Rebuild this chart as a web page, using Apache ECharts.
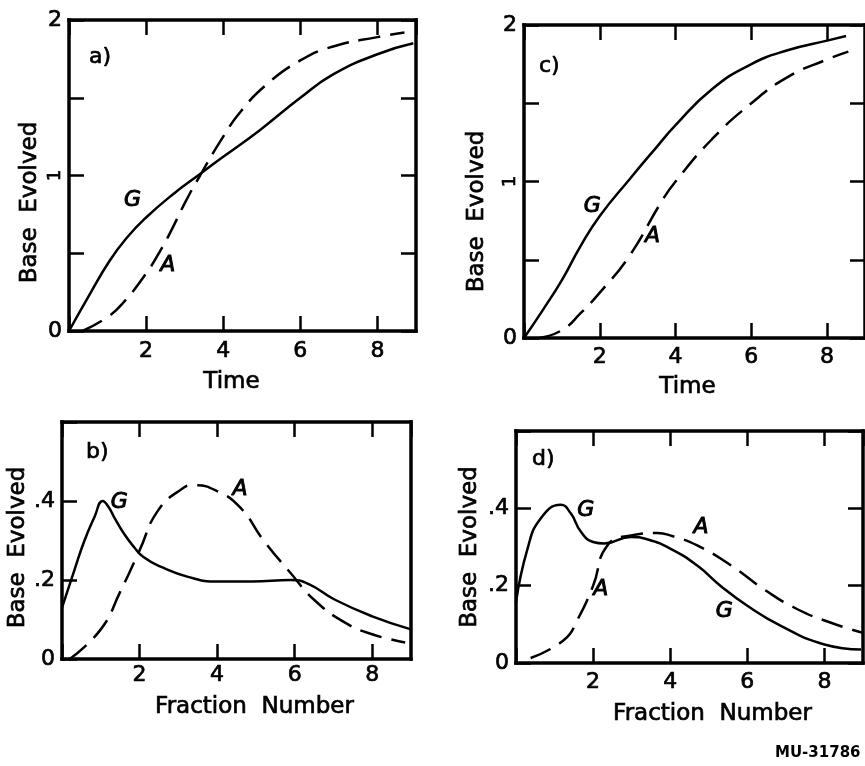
<!DOCTYPE html>
<html><head><meta charset="utf-8">
<script src="https://cdn.jsdelivr.net/npm/echarts@6/dist/echarts.min.js"></script>
<style>html,body{margin:0;padding:0;background:#fff}#c{width:865px;height:766px}</style>
</head><body><div id="c"></div>
<script>
// ---- Data ----
// Panel a) Base evolved vs time
const aGx = [0, 0.5, 1.05, 1.5, 2, 2.7, 3.4, 4, 4.94, 6, 6.85, 8, 8.93];
const aGy = [0, 0.22, 0.45, 0.6, 0.73, 0.88, 1.01, 1.12, 1.29, 1.5, 1.65, 1.78, 1.85];
const aAx = [0.35, 1.0, 1.4, 2, 2.4, 2.7, 3.04, 3.4, 4, 4.45, 5.1, 6, 6.85, 8, 8.7];
const aAy = [0, 0.09, 0.18, 0.37, 0.53, 0.67, 0.84, 1.0, 1.25, 1.41, 1.58, 1.74, 1.83, 1.89, 1.92];
// Panel c) Base evolved vs time
const cGx = [0, 0.5, 1.0, 1.5, 2, 2.77, 3.5, 4, 4.96, 6, 6.98, 8, 8.5];
const cGy = [0, 0.18, 0.37, 0.59, 0.78, 1.01, 1.22, 1.36, 1.59, 1.75, 1.84, 1.9, 1.93];
const cAx = [0.4, 1.0, 1.5, 2, 2.77, 3.65, 4, 4.96, 6, 6.98, 8, 8.56];
const cAy = [0, 0.05, 0.16, 0.29, 0.52, 0.88, 1.0, 1.27, 1.5, 1.67, 1.78, 1.83];
// Panel b) Base evolved vs fraction number
const bGx = [0, 0.32, 0.58, 0.84, 1.05, 1.2, 1.35, 1.6, 1.86, 2.1, 2.56, 3.25, 4, 4.9, 5.9, 6.35, 7.04, 8, 9];
const bGy = [0.13, 0.225, 0.3, 0.36, 0.40, 0.385, 0.358, 0.317, 0.283, 0.258, 0.233, 0.208, 0.196, 0.196, 0.2, 0.19, 0.15, 0.108, 0.075];
const bAx = [0.2, 1.0, 1.5, 2, 2.47, 3.08, 3.4, 4, 4.6, 5.2, 5.9, 6.5, 7.3, 8, 8.85];
const bAy = [0, 0.075, 0.17, 0.275, 0.375, 0.43, 0.44, 0.425, 0.383, 0.3, 0.217, 0.15, 0.092, 0.0625, 0.042];
// Panel d) Base evolved vs fraction number
const dGx = [0, 0.3, 0.64, 1.16, 1.42, 1.68, 2, 2.29, 2.98, 3.4, 4, 4.7, 5.3, 6, 6.87, 8, 8.95];
const dGy = [0.157, 0.296, 0.374, 0.409, 0.387, 0.34, 0.313, 0.309, 0.326, 0.32, 0.296, 0.252, 0.2, 0.148, 0.096, 0.048, 0.035];
const dAx = [0.38, 1.25, 1.6, 2, 2.37, 2.98, 3.67, 4, 4.7, 5.58, 6.44, 7.3, 8.17, 9];
const dAy = [0.013, 0.06, 0.113, 0.2, 0.304, 0.33, 0.336, 0.33, 0.304, 0.252, 0.19, 0.139, 0.104, 0.078];
// Curve annotations (text, x, y in data units)
const aLabels = [['G', 1.65, 0.84], ['A', 2.56, 0.42]];
const cLabels = [['G', 1.8, 0.84], ['A', 3.39, 0.65]];
const bLabels = [['G', 1.48, 0.396], ['A', 4.59, 0.43]];
const dLabels = [['G', 1.81, 0.396], ['A', 4.8, 0.352], ['A', 2.2, 0.19], ['G', 5.4, 0.135]];
// Axis texts
const panelTags = ['a)', 'b)', 'c)', 'd)'];
const xNames = ['Time', 'Fraction  Number', 'Time', 'Fraction  Number'];
const yName = 'Base  Evolved';
const corner = 'MU-31786';

// ---- Chart construction ----
const FONT = 'DejaVu Sans';
const BLACK = '#000';
const pairs = (xs, ys) => xs.map((x, i) => [x, ys[i]]);

// layout per panel: a, b, c, d
const panels = [
  { grid: { left: 69, top: 20, width: 347, height: 311 }, ymax: 2, yint: 0.5, time: true,
    G: pairs(aGx, aGy), A: pairs(aAx, aAy), labels: aLabels, right: true,
    xGap: 40, xPad: [0, 22, 0, 0], yGap: 27, yPad: [0, 54, 0, 0], xLabMargin: 9, tag: [89, 46] },
  { grid: { left: 62, top: 422, width: 349, height: 237 }, ymax: 0.6, yint: 0.2, time: false,
    G: pairs(bGx, bGy), A: pairs(bAx, bAy), labels: bLabels, right: false,
    xGap: 37, xPad: [0, 0, 0, 36], yGap: 27, yPad: [0, 14, 0, 0], xLabMargin: 5, tag: [86, 441] },
  { grid: { left: 524, top: 25, width: 342, height: 313 }, ymax: 2, yint: 0.5, time: true,
    G: pairs(cGx, cGy), A: pairs(cAx, cAy), labels: cLabels, right: true,
    xGap: 38, xPad: [0, 14, 0, 0], yGap: 35, yPad: [0, 60, 0, 0], xLabMargin: 8, tag: [539, 55] },
  { grid: { left: 516, top: 431, width: 347, height: 232 }, ymax: 0.6, yint: 0.2, time: false,
    G: pairs(dGx, dGy), A: pairs(dAx, dAy), labels: dLabels, right: true,
    xGap: 40, xPad: [0, 0, 0, 46], yGap: 34, yPad: [0, 0, 0, 0], xLabMargin: 8, tag: [532, 448] }
];

const tickStyle = { inside: true, length: 15, lineStyle: { color: BLACK, width: 2.5 } };
const frameLine = { show: true, onZero: false, lineStyle: { color: BLACK, width: 3.5, cap: 'square' } };
const txt = { color: BLACK, fontFamily: FONT, textBorderColor: BLACK, textBorderWidth: 0.7 };

const grids = [], xAxes = [], yAxes = [], series = [], titles = [];
panels.forEach((p, i) => {
  grids.push(Object.assign({ show: false }, p.grid));
  const xi = xAxes.length;
  xAxes.push({
    type: 'value', gridIndex: i, min: 0, max: 9, interval: 2, position: 'bottom',
    axisLine: frameLine, axisTick: tickStyle, splitLine: { show: false },
    axisLabel: Object.assign({ fontSize: 22, margin: p.xLabMargin, showMaxLabel: false,
      formatter: v => (v === 0 || v > 8.5) ? '' : String(v) }, txt),
    name: xNames[i], nameLocation: 'middle', nameGap: p.xGap,
    nameTextStyle: Object.assign({ fontSize: 23, padding: p.xPad }, txt)
  });
  xAxes.push({
    type: 'value', gridIndex: i, min: 0, max: 9, interval: 2, position: 'top',
    axisLine: frameLine, axisTick: tickStyle, splitLine: { show: false }, axisLabel: { show: false }
  });
  const yi = yAxes.length;
  yAxes.push({
    type: 'value', gridIndex: i, min: 0, max: p.ymax, interval: p.yint, position: 'left',
    axisLine: frameLine, axisTick: tickStyle, splitLine: { show: false },
    axisLabel: Object.assign({ fontSize: 22, margin: 7,
      formatter: v => {
        if (v === 0) return '0';
        if (p.time) return Math.abs(v - 2) < 1e-6 ? '2' : '';
        return v < 0.5 ? '.' + Math.round(v * 10) : '';
      } }, txt),
    name: yName, nameLocation: 'middle', nameRotate: 90, nameGap: p.yGap,
    nameTextStyle: Object.assign({ fontSize: 23, padding: p.yPad }, txt)
  });
  if (p.time) {
    // the "1" label is printed sideways in the original
    yAxes.push({
      type: 'value', gridIndex: i, min: 0, max: p.ymax, interval: p.yint, position: 'left',
      axisLine: { show: false }, axisTick: { show: false }, splitLine: { show: false },
      axisLabel: Object.assign({ fontSize: 18, margin: 5, rotate: 90,
        formatter: v => Math.abs(v - 1) < 1e-6 ? '1' : '' }, txt)
    });
  }
  yAxes.push({
    type: 'value', gridIndex: i, min: 0, max: p.ymax, interval: p.yint, position: 'right',
    axisLine: frameLine, axisTick: p.right ? tickStyle : { show: false }, splitLine: { show: false },
    axisLabel: { show: false }
  });
  const common = { type: 'line', xAxisIndex: xi, yAxisIndex: yi, showSymbol: false, smooth: 0.5,
    silent: true, animation: false };
  series.push(Object.assign({ name: 'G' + i, data: p.G, lineStyle: { color: BLACK, width: 2.5 } }, common));
  series.push(Object.assign({ name: 'A' + i, data: p.A, lineStyle: { color: BLACK, width: 2.5, type: [22, 10] } }, common));
  series.push({
    type: 'scatter', xAxisIndex: xi, yAxisIndex: yi, symbolSize: 0, silent: true, animation: false,
    itemStyle: { opacity: 1, color: BLACK },
    data: p.labels.map(l => ({ name: l[0], value: [l[1], l[2]] })),
    label: { show: true, position: 'inside', formatter: d => d.name, fontSize: 22, fontStyle: 'italic',
      opacity: 1, color: BLACK, fontFamily: FONT, textBorderColor: BLACK, textBorderWidth: 1 }
  });
  titles.push({ text: panelTags[i], left: p.tag[0], top: p.tag[1], padding: 0,
    textStyle: Object.assign({ fontSize: 22, fontWeight: 'normal' }, txt) });
});
titles.push({ text: corner, left: 775, top: 746, padding: 0,
  textStyle: { fontSize: 15, fontWeight: 'bold', color: BLACK, fontFamily: FONT } });

const chart = echarts.init(document.getElementById('c'), null, { renderer: 'canvas' });
chart.setOption({
  backgroundColor: '#fff', animation: false,
  title: titles, grid: grids, xAxis: xAxes, yAxis: yAxes, series: series
});
</script></body></html>
